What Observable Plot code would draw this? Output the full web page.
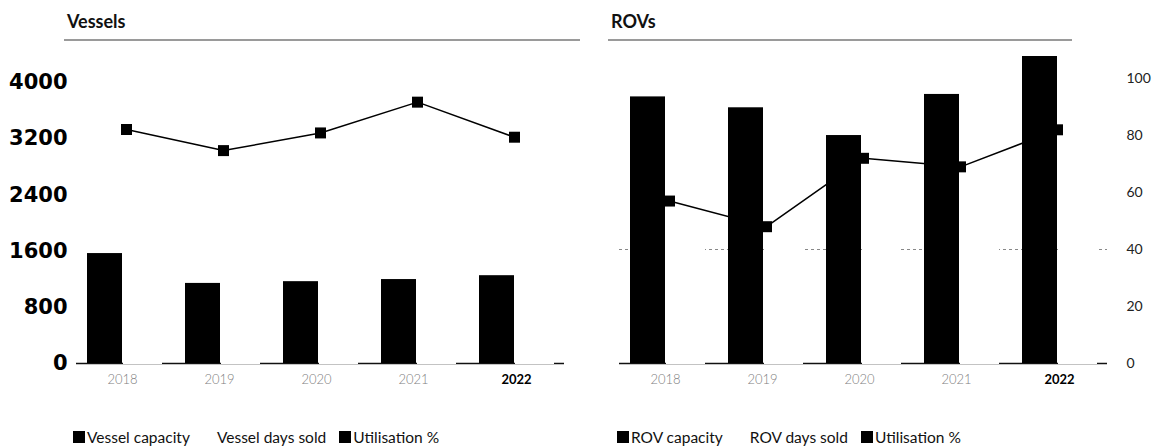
<!DOCTYPE html>
<html><head><meta charset="utf-8">
<script src="https://cdn.jsdelivr.net/npm/d3@7"></script>
<script src="https://cdn.jsdelivr.net/npm/@observablehq/plot@0.6"></script>
<style>
body{margin:0;background:#fff;width:1152px;height:448px;overflow:hidden;position:relative;font-family:Lato,sans-serif}
.layer{position:absolute;top:0}
.title{position:absolute;top:0;height:39px;border-bottom:2px solid #9a9a9a;}
.title span{position:absolute;left:3px;top:11px;font:bold 18px Lato;line-height:20px;color:#111}
.legend{position:absolute;top:428px;height:18px;display:flex;align-items:center;font:15.5px Lato;color:#111;white-space:nowrap}
.legend .item{display:flex;align-items:center;margin-right:13px}
.legend .sw{width:12px;height:12px;margin-right:2px}
</style></head><body>
<script>
const years = ["2018","2019","2020","2021","2022"];
const vesselCapacity = [1565, 1140, 1165, 1195, 1250];
const vesselDaysSold = [1285, 852, 942, 1096, 993];
const vesselUtilisation = [82.1, 74.7, 80.9, 91.7, 79.4];
const rovCapacity = [3795, 3640, 3245, 3830, 4370];
const rovDaysSold = [2163, 1747, 2336, 2643, 3583];
const rovUtilisation = [57, 48, 72, 69, 82];
const capacityTicks = [0, 800, 1600, 2400, 3200, 4000];
const utilisationTicks = [0, 20, 40, 60, 80, 100];
const vesselLegend = ["Vessel capacity", "Vessel days sold", "Utilisation %"];
const rovLegend = ["ROV capacity", "ROV days sold", "Utilisation %"];
const legendColors = ["#000", "#fff", "#000"];

const W = 620, H = 400, ML = 76, MR = W - 564, MB = 37;
const style = {background: "transparent", overflow: "visible"};

function panel(p) {
  const rows = years.map((year, i) => ({year, capacity: p.capacity[i], sold: p.sold[i], util: p.util[i]}));
  const xBand = {type: "band", domain: years, paddingInner: 0.245, paddingOuter: 0.112, axis: null};
  const xPoint = {type: "point", domain: years, padding: 0.49, axis: null};

  const m1 = [];
  if (p.grid) m1.push(Plot.ruleY([40], {stroke: "#888", strokeWidth: 1, strokeDasharray: "3,3"}));
  if (p.axis === "right") m1.push(Plot.axisY(utilisationTicks, {anchor: "right", tickSize: 0, tickPadding: 19, fontSize: 14, fontFamily: "Lato", fill: "#222", label: null, tickFormat: d => String(d)}));
  const l1 = Plot.plot({width: W, height: H, marginLeft: ML, marginRight: MR, marginTop: 78, marginBottom: MB, style,
    x: xPoint, y: {domain: [0, 100], label: null, axis: p.axis === "right" ? undefined : null}, marks: m1.length ? m1 : [Plot.frame({stroke: "none"})]});

  const m2 = [
    Plot.ruleY([0], {stroke: "#111", strokeWidth: 1.5}),
    Plot.barY(rows, {x: "year", y: "sold", fill: "white", stroke: "white", strokeWidth: 2, insetLeft: 37}),
    Plot.barY(rows, {x: "year", y: "capacity", fill: "black", insetRight: 39})
  ];
  if (p.axis === "left") m2.push(Plot.axisY(capacityTicks, {anchor: "left", tickSize: 0, tickPadding: 9, fontSize: 21, fontWeight: "bold", fontFamily: "DejaVu Sans", fill: "#000", label: null, tickFormat: d => String(d)}));
  const l2 = Plot.plot({width: W, height: H, marginLeft: ML, marginRight: MR, marginTop: 82, marginBottom: MB, style,
    x: xBand, y: {domain: [0, 4000], label: null, axis: p.axis === "left" ? undefined : null}, marks: m2});

  const l3 = Plot.plot({width: W, height: H, marginLeft: ML, marginRight: MR, marginTop: 78, marginBottom: MB, style,
    x: xPoint, y: {domain: [0, 100], label: null, axis: null}, marks: [
      Plot.line(rows, {x: "year", y: "util", stroke: "black", strokeWidth: 1.5}),
      Plot.dot(rows, {x: "year", y: "util", symbol: "square", r: 6.2, fill: "black"}),
      Plot.text(years.slice(0, -1), {x: d => d, frameAnchor: "bottom", dy: 20, dx: -4, fill: "#808080", fontSize: 13, fontFamily: "Lato", fontWeight: 300}),
      Plot.text(years.slice(-1), {x: d => d, frameAnchor: "bottom", dy: 20, dx: 2, fill: "#000", fontSize: 13, fontFamily: "Lato", fontWeight: "bold"})
    ]});

  for (const svg of [l1, l2, l3]) {
    svg.classList.add("layer");
    svg.style.left = p.offset + "px";
    document.body.appendChild(svg);
  }

  const t = document.createElement("div");
  t.className = "title";
  t.style.left = p.ruleLeft + "px";
  t.style.width = p.ruleWidth + "px";
  t.innerHTML = `<span>${p.title}</span>`;
  document.body.appendChild(t);

  const lg = document.createElement("div");
  lg.className = "legend";
  lg.style.left = p.legendLeft + "px";
  p.legend.forEach((name, i) => {
    const it = document.createElement("div");
    it.className = "item";
    it.innerHTML = `<span class="sw" style="background:${legendColors[i]}"></span><span>${name}</span>`;
    lg.appendChild(it);
  });
  document.body.appendChild(lg);
}

panel({title: "Vessels", capacity: vesselCapacity, sold: vesselDaysSold, util: vesselUtilisation, legend: vesselLegend,
  offset: 0, axis: "left", grid: false, ruleLeft: 64, ruleWidth: 516, legendLeft: 73});
panel({title: "ROVs", capacity: rovCapacity, sold: rovDaysSold, util: rovUtilisation, legend: rovLegend,
  offset: 543, axis: "right", grid: true, ruleLeft: 608, ruleWidth: 464, legendLeft: 617});
</script>
</body></html>
